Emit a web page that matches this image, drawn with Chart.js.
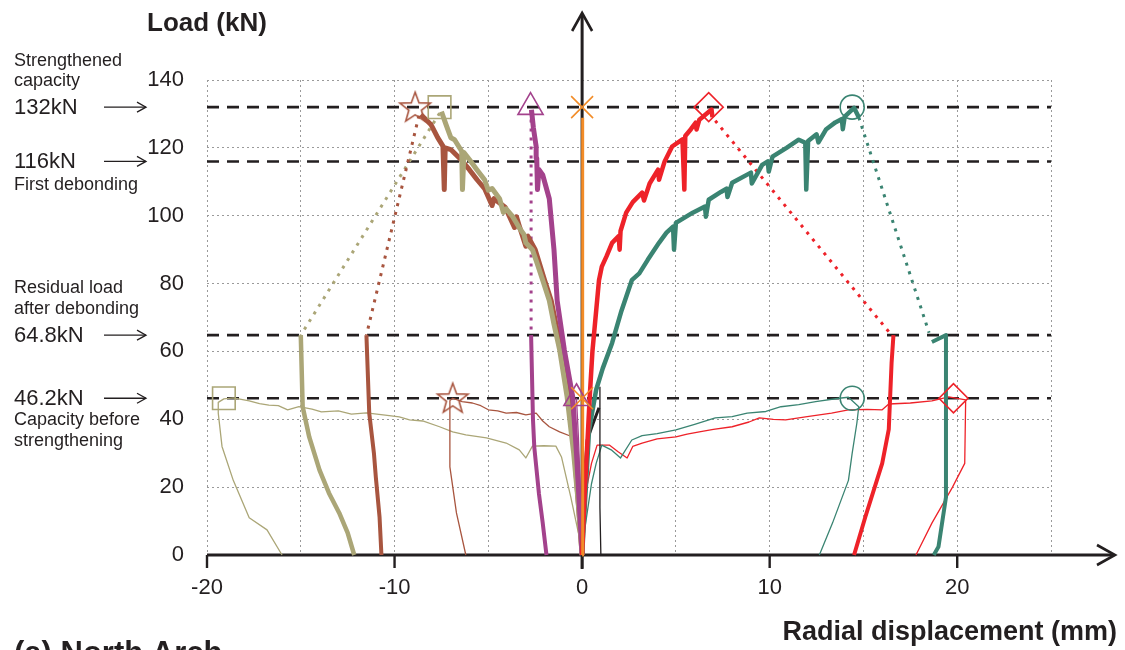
<!DOCTYPE html>
<html><head><meta charset="utf-8">
<script src="https://cdn.jsdelivr.net/npm/chart.js@4.4.1/dist/chart.umd.min.js"></script>
<style>html,body{margin:0;padding:0;background:#fff}#wrap{width:1125px;height:650px;position:relative;overflow:hidden}</style>
</head><body><div id="wrap"><canvas id="c" width="1125" height="650"></canvas></div>
<script>
// ---------- axis / tick data ----------
const xGridValues = [-20,-15,-10,-5,0,5,10,15,20,25];
const xTickLabels = [-20,-10,0,10,20];
const yTickValues = [0,20,40,60,80,100,120,140];
const referenceLevels = [132,116,64.8,46.2];
const referenceLabels = ['132kN','116kN','64.8kN','46.2kN'];

// ---------- strengthened tests (thick: before debonding, dotted: drop, thick: after) ----------
const oliveUp = [[0,0],[-0.2,15],[-0.45,30],[-0.8,46.6],[-1.2,60.5],[-1.5,68],[-1.75,75],[-2.1,81],[-2.4,86],[-2.65,90],[-3.0,92],[-3.1,94.5],[-3.3,96],[-3.7,99.7],[-4.05,102],[-4.2,101],[-4.4,105],[-4.8,108],[-5.0,107.5],[-5.2,110.6],[-5.6,113.5],[-6.0,116.5],[-6.3,118.6],[-6.38,107.7],[-6.42,119],[-6.8,122.4],[-7.0,123],[-7.25,126.8],[-7.5,130.7]];
const oliveDrop = [[-7.6,130.2],[-15.0,64.8]];
const oliveAfter = [[-15.0,64.8],[-14.9,43.7],[-14.55,34.8],[-14.0,25],[-13.5,18.3],[-12.95,12.4],[-12.5,6.5],[-12.15,0]];

const brownUp = [[0,0],[-0.2,15],[-0.4,30],[-0.7,46.6],[-1.1,60],[-1.65,75],[-2.0,81],[-2.5,90],[-2.9,94],[-3.0,91],[-3.35,97],[-3.5,99.7],[-3.6,96.5],[-4.1,102.5],[-4.7,105],[-4.8,103],[-5.2,108],[-5.6,110.6],[-6.0,113.5],[-6.45,116.5],[-7.0,119.5],[-7.3,120],[-7.35,107.7],[-7.42,120.5],[-7.7,123],[-8.05,126.8],[-8.6,129.8]];
const brownDrop = [[-8.7,129.5],[-11.5,64.8]];
const brownAfter = [[-11.5,64.8],[-11.35,41.8],[-11.1,30],[-11.0,23],[-10.8,11.2],[-10.7,0]];

const magentaUp = [[0,0],[-0.15,15],[-0.3,30],[-0.5,46.6],[-0.95,60.5],[-1.33,75],[-1.5,90],[-1.75,105],[-2.1,112],[-2.3,113.6],[-2.38,107.7],[-2.42,117],[-2.45,120.4],[-2.6,126],[-2.7,131.2]];
const magentaDrop = [[-2.72,131],[-2.72,64.8]];
const magentaAfter = [[-2.72,64.8],[-2.62,40],[-2.55,31.8],[-2.3,18],[-2.1,9.4],[-1.9,0]];

const orangeUp = [[0,0],[0.02,60],[0.04,128.9]];

const redUp = [[0,0],[0.15,20],[0.3,35],[0.4,46],[0.55,60],[0.8,75],[0.9,81],[1.05,85],[1.3,88],[1.6,92],[1.95,94],[2.0,90],[2.05,95.5],[2.35,100.9],[2.7,104],[3.2,106.8],[3.3,104.5],[3.6,109.5],[4.05,113.6],[4.1,110.6],[4.4,116],[4.8,120.4],[5.35,122.5],[5.45,107.7],[5.5,123.5],[5.8,125.5],[6.05,127.4],[6.1,125.4],[6.25,128.3],[6.9,131.3],[6.95,129]];
const redDrop = [[7.1,128],[16.5,64.8]];
const redAfter = [[16.6,64.8],[16.5,56.6],[16.35,37],[16.0,27],[15.1,11.2],[14.5,0]];

const tealUp = [[0,0],[0.2,20],[0.37,36.9],[0.75,48.7],[1.1,55],[1.6,62.5],[2.1,72],[2.65,81],[3.05,83],[3.5,87],[4.1,92],[4.5,95],[4.85,96.8],[4.9,90],[5.0,97.9],[5.9,100.9],[6.55,102.7],[6.6,99.7],[6.75,104.7],[7.4,107],[7.7,108],[7.75,105.5],[8.0,109.7],[9.0,112.7],[9.05,109.5],[9.6,115],[9.9,116],[9.95,113],[10.15,117.4],[10.9,120],[11.55,122.4],[11.9,121.5],[11.95,107.7],[12.05,122],[12.5,124],[12.6,121.6],[13.0,125.4],[13.5,127.5],[13.85,128.5],[13.9,125.5],[14.0,129.2],[14.5,131.8],[14.75,129]];
const tealDrop = [[14.75,129],[18.5,65.5]];
const tealAfter = [[18.65,62.8],[19.4,64.8],[19.4,45.7],[19.4,17],[19.0,2.4],[18.75,0]];

const blackUp = [[0,0],[0.1,20],[0.27,33.9],[0.6,39],[0.9,43.4]];
const blackGauge = [[1.0,0],[0.95,14],[0.95,49.6]];

// ---------- unstrengthened tests (thin) ----------
const oliveThin = [[0,0],[-0.15,5.3],[-0.6,17],[-1.1,28.9],[-1.4,32.1],[-2.05,32.2],[-2.65,32.1],[-3.0,28.6],[-3.35,31],[-4.05,33],[-5.1,34.5],[-6.2,35.4],[-6.9,36.3],[-7.6,37.8],[-8.5,39.5],[-9.2,39.8],[-9.75,40.7],[-10.5,41.2],[-11.5,41.9],[-12.3,41.5],[-13.0,42.5],[-13.9,42.2],[-14.4,43],[-15.1,43.7],[-15.7,42.8],[-16.2,44],[-16.7,44.2],[-17.2,44.6],[-17.75,45.4],[-18.6,46.3],[-19.1,46.0],[-19.4,45],[-19.4,41.8],[-19.2,32],[-18.6,22],[-17.75,11],[-16.8,7.4],[-16.0,0]];
const brownThin = [[0,0],[-0.1,10],[-0.35,25],[-0.5,33],[-0.6,35],[-1.2,36.3],[-1.75,37.8],[-2.1,39.5],[-2.45,41.8],[-3.0,41.3],[-3.5,42],[-4.05,41.8],[-4.5,42.5],[-5.0,42.8],[-5.4,44],[-5.85,44.8],[-6.4,45.2],[-6.9,46.2],[-7.05,45.5],[-7.05,26],[-6.7,12.4],[-6.2,0]];
const magentaThin = [[0,0],[-0.1,20],[-0.2,35],[-0.3,46.2]];
const redThin = [[0,0],[0.1,8],[0.25,20],[0.5,27],[0.8,32.4],[1.05,32.4],[1.45,32.4],[1.9,30.5],[2.4,28.6],[2.7,32],[3.2,33],[4.0,34.2],[5.0,34.8],[5.6,35.6],[6.25,36.3],[7.0,37],[8.0,37.8],[8.9,39.2],[9.45,40.4],[10.2,40],[10.85,39.8],[12.0,40.8],[13.3,41.8],[14.2,42.8],[15.2,42.9],[16.0,42.8],[16.35,44.5],[17.5,44.8],[18.65,45.4],[19.55,46.6],[20.45,45.7],[20.4,27],[19.75,20],[18.65,9.4],[17.8,0]];
const tealThin = [[0,0],[0.15,8],[0.5,21],[0.75,27],[1.05,32.4],[1.55,31],[2.05,28.6],[2.65,33.9],[3.2,35.2],[4.0,35.8],[5.0,36.9],[6.0,38.5],[7.1,40.4],[8.0,40.8],[8.8,41.8],[9.8,42.3],[10.6,43.7],[11.55,44.3],[12.45,45.2],[13.7,46.2],[14.2,46.5],[14.75,43.7],[14.65,38.9],[14.4,30],[14.2,22],[13.35,9.4],[12.65,0]];

// ---------- peak markers ----------
const oliveMarks = [[-7.6,132],[-19.1,46.2]];
const brownMarks = [[-8.9,132],[-6.9,46.2]];
const magentaMarks = [[-2.75,132],[-0.3,46.2]];
const orangeMarks = [[0,132],[0,46.2]];
const redMarks = [[6.75,132],[19.8,46.2]];
const tealMarks = [[14.4,132],[14.4,46.2]];

// ---------- colours ----------
const C = {olive:'#aba677', brown:'#a8553f', magenta:'#a3428c', orange:'#f28c28', red:'#ee2229', teal:'#3a8472', black:'#231f20', grid:'#9a9a9a'};
const FONT = '"Liberation Sans", Arial, Helvetica, sans-serif';

function pts(a){return a.map(p=>({x:p[0],y:p[1]}));}
function line(a,color,w,dash){return {data:pts(a),showLine:true,borderColor:color,borderWidth:w,borderDash:dash||[],pointRadius:0,fill:false,tension:0,borderJoinStyle:'round',borderCapStyle:'butt'};}
function marks(a,color,style,r){return {data:pts(a),showLine:false,pointStyle:style,pointRadius:r,pointHoverRadius:r,pointBorderColor:color,pointBackgroundColor:'rgba(0,0,0,0)',pointBorderWidth:1.6};}

// hollow five-point star marker
function starImage(color){
  const cv=document.createElement('canvas'); cv.width=36; cv.height=36;
  const g=cv.getContext('2d'); g.strokeStyle=color; g.lineWidth=1.6; g.lineJoin='miter';
  g.beginPath();
  for(let i=0;i<10;i++){const r=i%2?6.6:16; const a=-Math.PI/2+i*Math.PI/5; const px=18+r*Math.cos(a), py=19+r*Math.sin(a); i?g.lineTo(px,py):g.moveTo(px,py);}
  g.closePath(); g.stroke(); return cv;
}

const DASH=[3,6];
const layers = [ // bottom -> top
  ...referenceLevels.map(v=>line([[-20,v],[25,v]],C.black,2.6,[12,8])),
  line(oliveThin,C.olive,1.3), line(brownThin,C.brown,1.3), line(magentaThin,C.magenta,1.3),
  line(redThin,C.red,1.3), line(tealThin,C.teal,1.3), line(blackGauge,C.black,1.3),
  line(oliveDrop,C.olive,3,DASH), line(brownDrop,C.brown,3,DASH), line(magentaDrop,C.magenta,3,DASH),
  line(redDrop,C.red,3,DASH), line(tealDrop,C.teal,3,DASH),
  line(brownUp,C.brown,5), line(brownAfter,C.brown,4),
  line(oliveUp,C.olive,5), line(oliveAfter,C.olive,4.5),
  line(magentaUp,C.magenta,5), line(magentaAfter,C.magenta,4),
  line(blackUp,C.black,3),
  line(tealUp,C.teal,4.5), line(tealAfter,C.teal,4),
  line(redUp,C.red,4.5), line(redAfter,C.red,4),
  line(orangeUp,C.orange,3),
  marks(oliveMarks,C.olive,'rect',16), marks(brownMarks,C.brown,starImage(C.brown),16),
  marks(magentaMarks,C.magenta,'triangle',14.5), marks(orangeMarks,C.orange,'crossRot',15.5),
  marks(redMarks,C.red,'rectRot',14.5), marks(tealMarks,C.teal,'circle',12)
];
layers.forEach((d,i)=>{d.order=layers.length-i; d.clip=false;});

const decor = {
  id:'decor',
  beforeDatasetsDraw(chart){
    const ctx=chart.ctx, xs=chart.scales.x, ys=chart.scales.y;
    const x0=xs.getPixelForValue(0), y0=ys.getPixelForValue(0);
    const left=xs.getPixelForValue(-20);
    ctx.save(); ctx.strokeStyle=C.black; ctx.lineWidth=3; ctx.lineCap='butt';
    ctx.beginPath(); ctx.moveTo(left,y0); ctx.lineTo(1114,y0); ctx.stroke();
    ctx.beginPath(); ctx.moveTo(x0,y0+14); ctx.lineTo(x0,14); ctx.stroke();
    ctx.lineWidth=2.6; ctx.lineJoin='miter';
    ctx.beginPath(); ctx.moveTo(1097,y0-10); ctx.lineTo(1115,y0); ctx.lineTo(1097,y0+10); ctx.stroke();
    ctx.beginPath(); ctx.moveTo(x0-10,31); ctx.lineTo(x0,13); ctx.lineTo(x0+10,31); ctx.stroke();
    ctx.lineWidth=2.4;
    xTickLabels.forEach(v=>{const px=xs.getPixelForValue(v); ctx.beginPath(); ctx.moveTo(px,y0); ctx.lineTo(px,y0+13); ctx.stroke();});
    ctx.restore();
  },
  afterDraw(chart){
    const ctx=chart.ctx, ys=chart.scales.y;
    ctx.save(); ctx.fillStyle=C.black; ctx.textAlign='left'; ctx.textBaseline='alphabetic';
    ctx.font='bold 26px '+FONT;
    ctx.fillText('Load (kN)',147,31);
    ctx.font='bold 27px '+FONT;
    ctx.textAlign='right'; ctx.fillText('Radial displacement (mm)',1117,640);
    ctx.font='bold 31px '+FONT;
    ctx.textAlign='left'; ctx.fillText('(a) North Arch',14,663);
    ctx.textBaseline='middle';
    ctx.font='18px '+FONT;
    ctx.fillText('Strengthened',14,61); ctx.fillText('capacity',14,81);
    ctx.fillText('First debonding',14,185);
    ctx.fillText('Residual load',14,288); ctx.fillText('after debonding',14,309);
    ctx.fillText('Capacity before',14,420); ctx.fillText('strengthening',14,441);
    ctx.font='22px '+FONT;
    ctx.strokeStyle=C.black; ctx.lineWidth=1.3;
    referenceLevels.forEach((v,i)=>{
      const py=ys.getPixelForValue(v);
      ctx.fillText(referenceLabels[i],14,py+1);
      ctx.beginPath(); ctx.moveTo(104,py); ctx.lineTo(146,py); ctx.stroke();
      ctx.beginPath(); ctx.moveTo(137,py-5); ctx.lineTo(146,py); ctx.lineTo(137,py+5); ctx.stroke();
    });
    ctx.restore();
  }
};

new Chart(document.getElementById('c'),{
  type:'scatter',
  data:{datasets:layers},
  options:{
    responsive:false, animation:false, events:[], devicePixelRatio:1,
    layout:{padding:{left:147,right:74,top:80,bottom:0}},
    plugins:{legend:{display:false},tooltip:{enabled:false}},
    scales:{
      x:{type:'linear',min:-20,max:25,
        afterFit(s){s.height=95;},
        afterBuildTicks(s){s.ticks=xGridValues.map(v=>({value:v}));},
        ticks:{autoSkip:false,maxRotation:0,padding:20,color:C.black,font:{family:FONT,size:22},
          callback:v=>xTickLabels.includes(v)?String(v):''},
        grid:{color:C.grid,lineWidth:1,drawTicks:false},
        border:{display:false,dash:[2,3]}},
      y:{type:'linear',min:0,max:140,
        afterFit(s){s.width=60;},
        afterBuildTicks(s){s.ticks=yTickValues.map(v=>({value:v}));},
        ticks:{padding:23,color:C.black,font:{family:FONT,size:22}},
        grid:{color:C.grid,lineWidth:1,drawTicks:false},
        border:{display:false,dash:[2,3]}}
    }
  },
  plugins:[decor]
});
</script></body></html>
